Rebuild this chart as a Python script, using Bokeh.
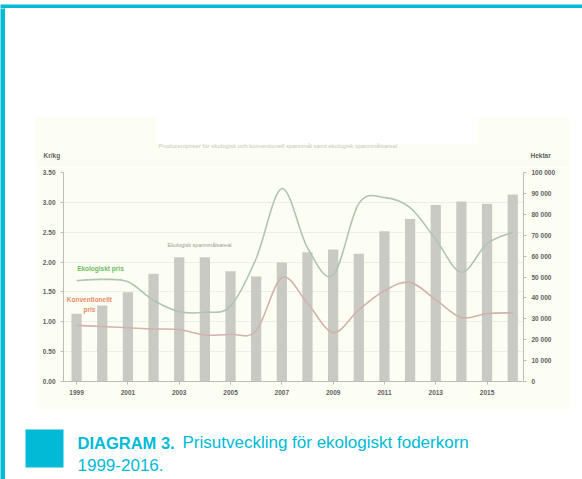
import numpy as np
from bokeh.plotting import figure
from bokeh.models import (Range1d, LinearAxis, FixedTicker, NumeralTickFormatter,
                          CustomJSTickFormatter, Label, BoxAnnotation, Spacer)
from bokeh.layouts import column, row
from bokeh.embed import file_html
from bokeh.resources import INLINE

# ---------------- data ----------------
years = list(range(1999, 2017))
eko_areal_ha = [32400, 36400, 42700, 51500, 59500, 59500, 52800, 50200, 56900,
                61900, 63200, 61100, 71900, 77800, 84500, 86100, 85000, 89500]
eko_pris = [1.69, 1.71, 1.67, 1.36, 1.17, 1.16, 1.26, 2.06, 3.23,
            2.24, 1.78, 2.98, 3.08, 2.91, 2.38, 1.83, 2.31, 2.50]
konv_pris = [0.94, 0.92, 0.90, 0.88, 0.87, 0.78, 0.79, 0.85, 1.74,
             1.31, 0.82, 1.20, 1.52, 1.66, 1.37, 1.07, 1.14, 1.15]
left_ticks = [0.0, 0.5, 1.0, 1.5, 2.0, 2.5, 3.0, 3.5]
right_ticks = [0, 10000, 20000, 30000, 40000, 50000, 60000, 70000, 80000, 90000, 100000]
x_ticks = [1999, 2001, 2003, 2005, 2007, 2009, 2011, 2013, 2015]

left_title = "Kr/kg"
right_title = "Hektar"
chart_title = "Producentpriser för ekologisk och konventionell spannmål samt ekologisk spannmålsareal"
lbl_eko = "Ekologiskt pris"
lbl_konv_1 = "Konventionellt"
lbl_konv_2 = "pris"
lbl_areal = "Ekologisk spannmålsareal"
cap_bold = "DIAGRAM 3."
cap_line1 = "Prisutveckling för ekologiskt foderkorn"
cap_line2 = "1999-2016."

CREAM = "#fdfef3"
CYAN = "#00bad6"
FONT = "Liberation Sans"
AXIS_TXT = "#606060"


def smooth_segments(xs, ys):
    """Cubic bezier segments (Excel-style smoothed line) through the data points."""
    xs = np.asarray(xs, float)
    ys = np.asarray(ys, float)
    xp = np.concatenate([[xs[0]], xs, [xs[-1]]])
    yp = np.concatenate([[ys[0]], ys, [ys[-1]]])
    n = len(xs) - 1
    i = np.arange(n) + 1
    return dict(
        x0=xp[i], y0=yp[i], x1=xp[i + 1], y1=yp[i + 1],
        cx0=xp[i] + (xp[i + 1] - xp[i - 1]) / 6, cy0=yp[i] + (yp[i + 1] - yp[i - 1]) / 6,
        cx1=xp[i + 1] - (xp[i + 2] - xp[i]) / 6, cy1=yp[i + 1] - (yp[i + 2] - yp[i]) / 6,
    )


def blank(w, h, color, xr=None, yr=None):
    f = figure(width=w, height=h, output_backend="svg", toolbar_location=None,
               x_range=xr or Range1d(0, w), y_range=yr or Range1d(h, 0), min_border=0,
               x_axis_location=None, y_axis_location=None, outline_line_color=None,
               background_fill_color=color, border_fill_color=color)
    f.grid.visible = False
    return f


# ---------------- main chart ----------------
p = figure(width=535, height=242, output_backend="svg", toolbar_location=None,
           x_range=Range1d(1998.49, 2016.42), y_range=Range1d(0, 3.5),
           min_border_left=28, min_border_right=47, min_border_top=5, min_border_bottom=28,
           background_fill_color=CREAM, border_fill_color=CREAM, outline_line_color=None)
p.extra_y_ranges = {"ha": Range1d(0, 100000)}

right_axis = LinearAxis(y_range_name="ha")
p.add_layout(right_axis, "right")

p.yaxis[0].ticker = FixedTicker(ticks=left_ticks)
p.yaxis[0].formatter = NumeralTickFormatter(format="0.00")
right_axis.ticker = FixedTicker(ticks=right_ticks)
right_axis.formatter = CustomJSTickFormatter(
    code="return tick.toFixed(0).replace(/\\B(?=(\\d{3})+(?!\\d))/g, ' ');")
p.xaxis.ticker = FixedTicker(ticks=x_ticks)
p.xaxis.formatter = NumeralTickFormatter(format="0")

for ax in [p.xaxis[0], p.yaxis[0], right_axis]:
    ax.axis_line_color = "#bdbdb7"
    ax.major_tick_line_color = "#bdbdb7"
    ax.minor_tick_line_color = None
    ax.major_tick_out = 3
    ax.major_tick_in = 0
    ax.major_label_text_font = FONT
    ax.major_label_text_font_size = "6.5px"
    ax.major_label_text_font_style = "bold"
    ax.major_label_text_color = AXIS_TXT
    ax.major_label_standoff = 5

p.xgrid.visible = False
p.ygrid.ticker = FixedTicker(ticks=left_ticks)
p.ygrid.grid_line_color = "#eeeee6"

p.vbar(x=years, top=eko_areal_ha, width=0.40, y_range_name="ha",
       fill_color="#cacac5", line_color=None)

p.bezier(line_color="#b0c4b3", line_width=1.6, **smooth_segments(years, eko_pris))
p.bezier(line_color="#d3b1ac", line_width=1.6, **smooth_segments(years, konv_pris))

p.add_layout(Label(x=1999.93, y=1.89, text=lbl_eko, text_align="center", text_baseline="middle",
                   text_font=FONT, text_font_size="6.5px", text_font_style="bold",
                   text_color="#6cbc62"))
p.add_layout(Label(x=1999.5, y=1.374, text=lbl_konv_1, text_align="center", text_baseline="middle",
                   text_font=FONT, text_font_size="6.5px", text_font_style="bold",
                   text_color="#e78a68"))
p.add_layout(Label(x=1999.5, y=1.206, text=lbl_konv_2, text_align="center", text_baseline="middle",
                   text_font=FONT, text_font_size="6.5px", text_font_style="bold",
                   text_color="#e78a68"))
p.add_layout(Label(x=2003.79, y=2.278, text=lbl_areal, text_align="center", text_baseline="middle",
                   text_font=FONT, text_font_size="5.5px", text_color="#9a9a96"))

# ---------------- strip above the chart (axis titles, faint title) ----------------
strip = blank(535, 50, CREAM)
strip.add_layout(BoxAnnotation(left=121, right=442, top=0, bottom=26,
                               fill_color="white", fill_alpha=1, line_color=None))
strip.add_layout(Label(x=123, y=28, text=chart_title, text_baseline="middle",
                       text_font=FONT, text_font_size="6px", text_color="#c8c8c4"))
strip.add_layout(Label(x=8, y=38, text=left_title, text_baseline="middle",
                       text_font=FONT, text_font_size="6.5px", text_font_style="bold",
                       text_color=AXIS_TXT))
strip.add_layout(Label(x=495, y=38, text=right_title, text_baseline="middle",
                       text_font=FONT, text_font_size="6.5px", text_font_style="bold",
                       text_color=AXIS_TXT))

# ---------------- caption ----------------
cap = blank(577, 70, "white")
cap.add_layout(BoxAnnotation(left=20, right=58, top=20, bottom=58, fill_color=CYAN,
                             fill_alpha=1, line_color=None))
cap.add_layout(Label(x=72, y=33, text=cap_bold, text_baseline="alphabetic", text_font=FONT,
                     text_font_size="16.5px", text_font_style="bold", text_color=CYAN))
cap.add_layout(Label(x=177, y=33, text=cap_line1, text_baseline="alphabetic", text_font=FONT,
                     text_font_size="17px", text_color=CYAN))
cap.add_layout(Label(x=72, y=55, text=cap_line2, text_baseline="alphabetic", text_font=FONT,
                     text_font_size="17px", text_color=CYAN))

# ---------------- page frame (cyan bands) ----------------
top_band = blank(582, 8, CYAN)
left_band = blank(5, 471, CYAN)

layout = column(
    top_band,
    row(left_band,
        column(Spacer(width=577, height=109),
               row(Spacer(width=30, height=50), strip),
               row(Spacer(width=30, height=242), p),
               cap)),
)

open("out.html", "w").write(file_html(layout, INLINE))
